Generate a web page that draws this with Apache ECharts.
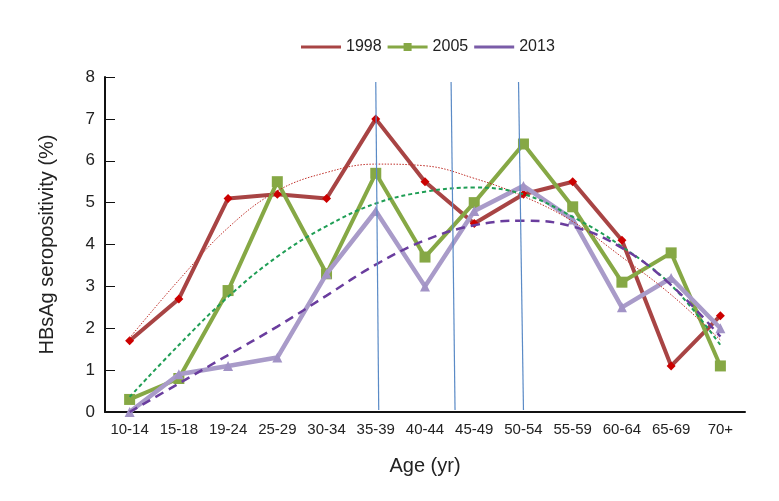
<!DOCTYPE html>
<html>
<head>
<meta charset="utf-8">
<script src="https://cdn.jsdelivr.net/npm/echarts@6/dist/echarts.min.js"></script>
<style>html,body{margin:0;padding:0;background:#fff}#c{width:779px;height:501px}</style>
</head>
<body>
<div id="c"></div>
<script>
const categories = ['10-14','15-18','19-24','25-29','30-34','35-39','40-44','45-49','50-54','55-59','60-64','65-69','70+'];
const yTicks = [0,1,2,3,4,5,6,7,8];
const s1998 = [1.7,2.7,5.1,5.2,5.1,7.0,5.5,4.5,5.2,5.5,4.1,1.1,2.3];
const s2005 = [0.3,0.8,2.9,5.5,3.3,5.7,3.7,5.0,6.4,4.9,3.1,3.8,1.1];
const s2013 = [0.0,0.9,1.1,1.3,3.3,4.8,3.0,4.8,5.4,4.6,2.5,3.2,2.0];
const trend1998 = [1.77,3.15,4.4,5.28,5.72,5.92,5.88,5.58,5.15,4.55,3.7,2.8,1.72];
const trend2005 = [0.36,1.6,2.75,3.71,4.44,4.98,5.26,5.36,5.2,4.66,3.95,3.03,1.6];
const trend2013 = [0.0,0.68,1.36,2.04,2.78,3.52,4.1,4.46,4.57,4.43,3.92,3.03,1.8];
const blueLine1 = [[5.0,7.88],[5.06,0.05]];
const blueLine2 = [[6.53,7.88],[6.61,0.05]];
const blueLine3 = [[7.9,7.88],[8.0,0.05]];

const FONT = '"Liberation Sans Narrow","Liberation Sans",Arial,sans-serif';
const chart = echarts.init(document.getElementById('c'));
function trend(name, data, color, width, type){
  return {name: name, type:'line', data:data, smooth:0.4, symbol:'none', silent:true,
    lineStyle:{color:color, width:width, type:type}, z:5};
}
function blue(data){
  return {type:'line', xAxisIndex:1, data:data, symbol:'none', silent:true,
    lineStyle:{color:'#5a8ac6', width:1.2}, z:10};
}
chart.setOption({
  animation:false,
  backgroundColor:'#fff',
  legend:{
    top:34, left:296, itemGap:6, itemWidth:40, itemHeight:8,
    textStyle:{fontFamily:FONT, fontSize:16, color:'#222'},
    data:[
      {name:'1998', icon:'path://M0,2.5H40V5.5H0Z', itemStyle:{color:'#a84444'}},
      {name:'2005', icon:'path://M0,2.5H16V0H24V2.5H40V5.5H24V8H16V5.5H0Z', itemStyle:{color:'#86a845'}},
      {name:'2013', icon:'path://M0,2.5H40V5.5H0Z', itemStyle:{color:'#7a5ca8'}}
    ]
  },
  grid:{left:105, right:34, top:77, bottom:89},
  xAxis:[{
    type:'category', data:categories, boundaryGap:true,
    axisLine:{lineStyle:{color:'#111', width:2}},
    axisTick:{inside:true, alignWithLabel:true, length:12, lineStyle:{color:'#111', width:1}},
    axisLabel:{fontFamily:FONT, fontSize:15, color:'#222', margin:10, interval:0},
    name:'Age (yr)', nameLocation:'middle', nameGap:44,
    nameTextStyle:{fontFamily:FONT, fontSize:20, color:'#222'}
  },{
    type:'value', min:-0.5, max:12.5, show:false
  }],
  yAxis:{
    type:'value', min:0, max:8, interval:1,
    axisLine:{show:true, onZero:false, lineStyle:{color:'#111', width:2}},
    axisTick:{show:true, inside:true, length:10, lineStyle:{color:'#111', width:1}},
    splitLine:{show:false},
    axisLabel:{fontFamily:FONT, fontSize:17, color:'#222', margin:10,
      formatter:function(v){return yTicks.indexOf(v)>=0 ? String(v) : '';}},
    name:'HBsAg seropositivity (%)', nameLocation:'middle', nameGap:48, nameRotate:90,
    nameTextStyle:{fontFamily:FONT, fontSize:20, color:'#222'}
  },
  series:[
    {name:'1998', type:'line', data:s1998, symbol:'diamond', symbolSize:9,
      lineStyle:{color:'#a84444', width:4}, itemStyle:{color:'#cc0000'}, z:2},
    {name:'2005', type:'line', data:s2005, symbol:'rect', symbolSize:11,
      lineStyle:{color:'#86a845', width:4}, itemStyle:{color:'#86a845'}, z:3},
    {name:'2013', type:'line', data:s2013, symbol:'triangle', symbolSize:10,
      lineStyle:{color:'#a99bc9', width:4.5}, itemStyle:{color:'#a293c6'}, z:4},
    trend('t1998', trend1998, '#c0302a', 1, [1.5,1.5]),
    trend('t2005', trend2005, '#1f9e55', 2, [4,3]),
    trend('t2013', trend2013, '#6a3d9e', 2.5, [9,6]),
    blue(blueLine1), blue(blueLine2), blue(blueLine3)
  ]
});
</script>
</body>
</html>
